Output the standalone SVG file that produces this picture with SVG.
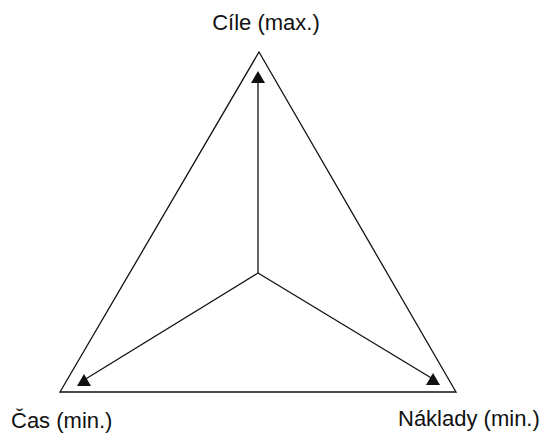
<svg xmlns="http://www.w3.org/2000/svg" width="545" height="434" viewBox="0 0 545 434">
<style>
.t{font-family:"Liberation Sans",Arial,sans-serif;font-size:22px;fill:#111}
.l{stroke:#111;stroke-width:1.3;fill:none}
</style>
<defs>
<marker id="ah" viewBox="0 0 14 12" refX="7" refY="6" markerWidth="14" markerHeight="12" markerUnits="userSpaceOnUse">
<path d="M7,0 L14,12 L0,12 Z" fill="#111"/>
</marker>
</defs>
<g id="triangle"><path class="l" d="M259,52 L456,392 L60,392 Z"/></g>
<g id="connectors">
<line class="l" x1="258" y1="273" x2="258" y2="77" marker-end="url(#ah)"/>
<line class="l" x1="258" y1="273" x2="84" y2="380" marker-end="url(#ah)"/>
<line class="l" x1="258" y1="273" x2="433" y2="379" marker-end="url(#ah)"/>
</g>
<g id="cile"><text class="t" x="266" y="30" text-anchor="middle">Cíle (max.)</text></g>
<g id="cas"><text class="t" x="11" y="428">Čas (min.)</text></g>
<g id="naklady"><text class="t" x="398" y="426">Náklady (min.)</text></g>
</svg>
